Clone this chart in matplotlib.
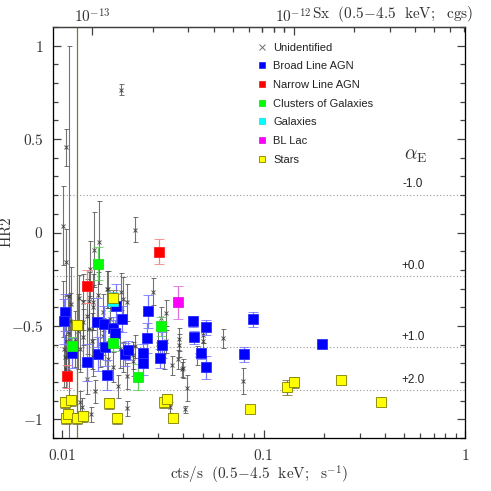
import numpy as np
import matplotlib.pyplot as plt
from matplotlib.lines import Line2D
from matplotlib.ticker import FixedLocator, LogLocator, MultipleLocator, NullFormatter

plt.rcParams['mathtext.fontset'] = 'cm'
plt.rcParams['font.family'] = ['Liberation Sans', 'DejaVu Sans']

# count rate -> flux conversion used for the top axis
CTS_PER_CGS = 1.41e11

# Unidentified
unid_x = [0.01963, 0.01047, 0.01083, 0.01011, 0.01047, 0.01441, 0.01526, 0.02304, 0.02829,
          0.01377, 0.01214, 0.01361, 0.01692, 0.02009, 0.01425, 0.01597, 0.01331, 0.01096,
          0.01071, 0.01047, 0.01035, 0.01047, 0.01160, 0.01200, 0.01228, 0.01271, 0.01271,
          0.01361, 0.01409, 0.01425, 0.01331, 0.01228, 0.01257, 0.01393, 0.01544, 0.01597,
          0.01692, 0.01731, 0.01791, 0.01897, 0.02102, 0.02102, 0.01941, 0.02009, 0.02251,
          0.01458, 0.01011, 0.01023, 0.01108, 0.01271, 0.01425, 0.01509, 0.01673, 0.01963,
          0.02102, 0.02304, 0.02251, 0.02995, 0.03099, 0.03282, 0.03282, 0.03208, 0.03515,
          0.03808, 0.03808, 0.03765, 0.03940, 0.04173, 0.04078, 0.03436, 0.05011, 0.05011,
          0.04677, 0.06295, 0.07912, 0.03986]
unid_y = [0.765, 0.455, -0.342, 0.037, -0.160, -0.091, -0.053, 0.016, -0.316,
          -0.198, -0.348, -0.364, -0.305, -0.358, -0.401, -0.428, -0.449, -0.476,
          -0.535, -0.583, -0.668, -0.733, -0.572, -0.529, -0.626, -0.561, -0.481,
          -0.519, -0.583, -0.668, -0.786, -0.909, -0.936, -0.973, -0.599, -0.556,
          -0.679, -0.465, -0.722, -0.824, -0.770, -0.941, -0.626, -0.668, -0.690,
          -0.850, -0.412, -0.626, -0.385, -0.374, -0.374, -0.332, -0.305, -0.316,
          -0.374, -0.610, -0.658, -0.599, -0.460, -0.433, -0.583, -0.663, -0.711,
          -0.572, -0.604, -0.679, -0.733, -0.834, -0.947, -0.936, -0.583, -0.551,
          -0.658, -0.567, -0.797, -0.727]
unid_err = [0.03, 0.10, 1.34, 0.21, 0.18, 0.20, 0.22, 0.065, 0.07,
            0.15, 0.12, 0.15, 0.10, 0.12, 0.12, 0.10, 0.20, 0.15,
            0.20, 0.15, 0.12, 0.10, 0.15, 0.20, 0.12, 0.15, 0.12,
            0.18, 0.15, 0.10, 0.08, 0.06, 0.05, 0.04, 0.12, 0.10,
            0.10, 0.12, 0.08, 0.06, 0.07, 0.04, 0.10, 0.08, 0.08,
            0.06, 0.15, 0.20, 0.20, 0.15, 0.15, 0.12, 0.10, 0.10,
            0.10, 0.06, 0.07, 0.08, 0.06, 0.07, 0.06, 0.07, 0.05,
            0.06, 0.06, 0.05, 0.04, 0.07, 0.02, 0.03, 0.06, 0.04,
            0.05, 0.05, 0.07, 0.05]

# Broad Line AGN
blagn_x = [0.01035, 0.01023, 0.01121, 0.01331, 0.01492, 0.01509, 0.01616, 0.01635, 0.01673,
           0.01791, 0.01832, 0.01854, 0.01986, 0.02055, 0.02126, 0.02523, 0.02523, 0.02641,
           0.02672, 0.03064, 0.03135, 0.04470, 0.04522, 0.04897, 0.05185, 0.05185, 0.08003,
           0.08871, 0.1950]
blagn_y = [-0.428, -0.476, -0.647, -0.695, -0.481, -0.652, -0.492, -0.615, -0.765,
           -0.513, -0.540, -0.396, -0.465, -0.652, -0.631, -0.647, -0.701, -0.567,
           -0.422, -0.674, -0.604, -0.476, -0.561, -0.647, -0.508, -0.722, -0.652,
           -0.465, -0.599]
blagn_err = [0.10, 0.12, 0.08, 0.10, 0.13, 0.09, 0.10, 0.10, 0.08,
             0.06, 0.07, 0.12, 0.07, 0.06, 0.05, 0.05, 0.06, 0.08,
             0.09, 0.05, 0.07, 0.03, 0.035, 0.03, 0.04, 0.06, 0.04,
             0.04, 0.01]

# Narrow Line AGN
nlagn_x = [0.03029, 0.01331, 0.01059]
nlagn_y = [-0.102, -0.289, -0.770]
nlagn_err = [0.065, 0.09, 0.06]

# Clusters of Galaxies
clus_x = [0.01121, 0.01509, 0.01791, 0.02384, 0.03099]
clus_y = [-0.610, -0.166, -0.594, -0.775, -0.503]
clus_err = [0.05, 0.09, 0.04, 0.07, 0.05]

# Galaxies
gal_x = [0.01791]
gal_y = [-0.369]
gal_err = [0.05]

# BL Lac
bllac_x = [0.03765]
bllac_y = [-0.374]
bllac_err = [0.09]

# Stars
star_x = [0.01035, 0.01108, 0.01047, 0.01071, 0.01187, 0.01271, 0.01187, 0.01712, 0.01875,
          0.01791, 0.03208, 0.03320, 0.03556, 0.08570, 0.1308, 0.1417, 0.2425, 0.3830]
star_y = [-0.909, -0.898, -0.995, -0.973, -0.995, -0.984, -0.497, -0.914, -0.995,
          -0.348, -0.909, -0.893, -0.995, -0.947, -0.829, -0.802, -0.791, -0.909]
star_err = [0.03, 0.03, 0.03, 0.03, 0.03, 0.03, 1.70, 0.03, 0.03,
            0.04, 0.03, 0.03, 0.02, 0.02, 0.04, 0.03, 0.015, 0.015]

# HR2 expected for power law energy index alpha_E
alpha_hr2 = [0.203, -0.235, -0.615, -0.845]
alpha_labels = ['-1.0', '+0.0', '+1.0', '+2.0']

groups = [
    # x, y, err, face, edge, errcolor, label
    (blagn_x, blagn_y, blagn_err, '#0000ff', '#3030ff', '#7878ff', 'Broad Line AGN'),
    (nlagn_x, nlagn_y, nlagn_err, '#ff0000', '#ff2020', '#ff8080', 'Narrow Line AGN'),
    (clus_x, clus_y, clus_err, '#00ff00', '#20e020', '#60d060', 'Clusters of Galaxies'),
    (gal_x, gal_y, gal_err, '#00ffff', '#20e0e0', '#60d0d0', 'Galaxies'),
    (bllac_x, bllac_y, bllac_err, '#ff00ff', '#e020e0', '#e070e0', 'BL Lac'),
    (star_x, star_y, star_err, '#ffff00', '#808000', '#7a7a40', 'Stars'),
]

XMIN, XMAX = 0.009, 1.0
AXCOL = '#404040'

fig = plt.figure(figsize=(4.91, 4.91), dpi=100)
ax = fig.add_axes([53 / 491, 53 / 491, 412 / 491, 411 / 491])
ax.set_xscale('log')
ax.set_xlim(XMIN, XMAX)
ax.set_ylim(-1.1, 1.1)

for y in alpha_hr2:
    ax.axhline(y, color='#999999', ls=(0, (1, 2)), lw=0.8, zorder=1)
for y, lab in zip(alpha_hr2, alpha_labels):
    ax.annotate(lab, (0.552, y), xytext=(0, 3), textcoords='offset points',
                ha='center', va='bottom', fontsize=8.5, color='#222222')
ax.text(0.571, 0.406, r'$\alpha_{\rm E}$', fontsize=14, ha='center', va='center', color='#333333')

ax.errorbar(unid_x, unid_y, yerr=unid_err, fmt='x', ms=3, mew=0.7, color='#303030',
            ecolor='#505050', elinewidth=0.8, capsize=1.8, capthick=0.8, alpha=0.8, zorder=2)

for gx, gy, ge, face, edge, ecol, lab in groups:
    ax.errorbar(gx, gy, yerr=ge, fmt='s', ms=6.5, mfc=face, mec=edge, mew=0.6,
                ecolor=ecol, elinewidth=0.9, capsize=3.5, capthick=0.9, zorder=3)

# axes, ticks
for sp in ax.spines.values():
    sp.set_color(AXCOL)
    sp.set_linewidth(0.9)
ax.xaxis.set_major_locator(FixedLocator([0.01, 0.1, 1]))
ax.xaxis.set_minor_locator(LogLocator(base=10, subs=np.arange(2, 10)))
ax.xaxis.set_minor_formatter(NullFormatter())
ax.set_xticklabels([r'$0.01$', r'$0.1$', r'$1$'])
ax.yaxis.set_major_locator(FixedLocator([-1, -0.5, 0, 0.5, 1]))
ax.yaxis.set_minor_locator(MultipleLocator(0.1))
ax.set_yticklabels([r'$-1$', r'$-0.5$', r'$0$', r'$0.5$', r'$1$'])
ax.tick_params(which='both', direction='in', top=False, right=True, color=AXCOL, width=0.9,
               labelsize=11, labelcolor='#333333', pad=7)
ax.tick_params(which='major', length=6)
ax.tick_params(which='minor', length=3.5)

ax.set_xlabel(r'$\mathrm{cts/s}\ \ (0.5\!-\!4.5\ \ \mathrm{keV;}\ \ \mathrm{s}^{-1})$',
              fontsize=11, color='#333333', labelpad=1)
ax.set_ylabel(r'$\mathrm{HR2}$', fontsize=11, color='#333333')
ax.yaxis.set_label_coords(-0.095, 0.5)

# top axis: flux
top = ax.twiny()
top.set_xscale('log')
top.set_xlim(XMIN / CTS_PER_CGS, XMAX / CTS_PER_CGS)
top.set_xticks([1e-13, 1e-12], labels=[r'$10^{-13}$', r'$10^{-12}$'])
top.set_xticks([f * 1e-13 for f in range(7, 10)] + [f * 1e-13 for f in range(2, 10)]
               + [f * 1e-12 for f in range(2, 8)], minor=True)
top.xaxis.set_minor_formatter(NullFormatter())
top.tick_params(axis='x', which='both', direction='in', top=True, bottom=False,
                labeltop=True, labelbottom=False, color=AXCOL, width=0.9,
                labelsize=11, labelcolor='#333333', pad=1)
top.tick_params(axis='x', which='major', length=6)
top.tick_params(axis='x', which='minor', length=3.5)
top.spines['top'].set_color(AXCOL)
top.spines['top'].set_linewidth(0.9)
fig.text(312 / 491, 1 - 14 / 491, r'$\mathrm{Sx}\ \ (0.5\!-\!4.5\ \ \mathrm{keV;\ \ cgs})$',
         fontsize=11, color='#333333', ha='left', va='center')

handles = [Line2D([], [], ls='none', marker='x', ms=4, mew=0.7, color='#707070')]
labels = ['Unidentified']
for gx, gy, ge, face, edge, ecol, lab in groups:
    handles.append(Line2D([], [], ls='none', marker='s', ms=4, mfc=face, mec=edge, mew=0.6))
    labels.append(lab)
leg = ax.legend(handles, labels, loc='upper left', bbox_to_anchor=(0.499, 0.962),
                frameon=False, fontsize=8, borderpad=0, handlelength=0.7,
                handletextpad=0.6, labelspacing=0.78, borderaxespad=0)
for t in leg.get_texts():
    t.set_color('#222222')

fig.savefig('out.png', dpi=100)
